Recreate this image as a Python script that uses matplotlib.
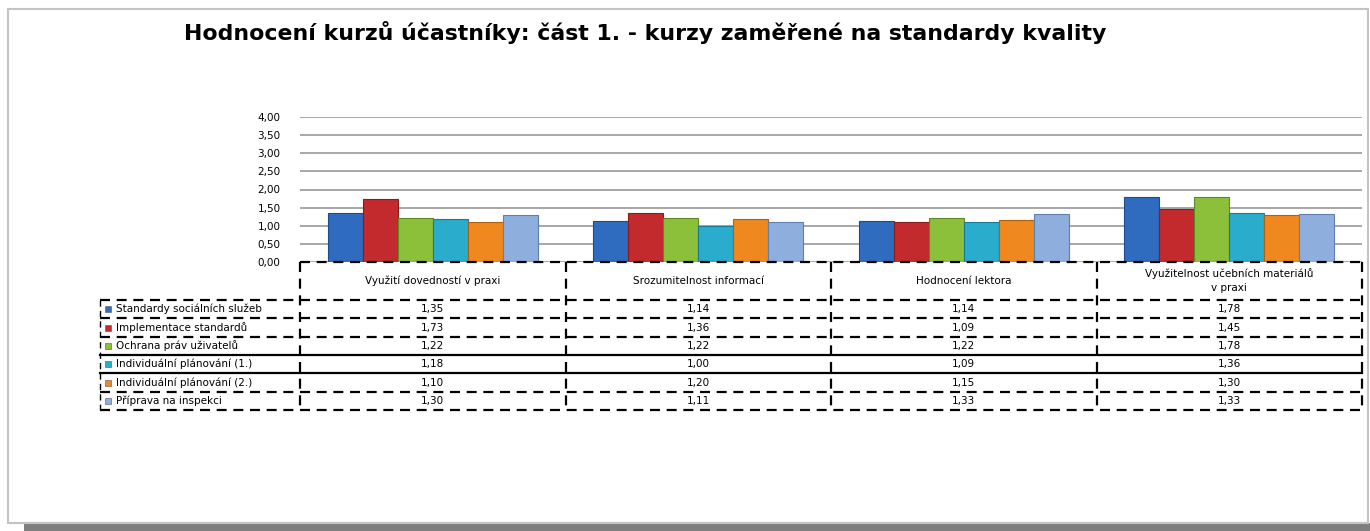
import matplotlib.pyplot as plt
from matplotlib.patches import Rectangle
import numpy as np

categories = ['Využití dovedností v praxi', 'Srozumitelnost informací',
              'Hodnocení lektora', 'Využitelnost učebních materiálů\nv praxi']
series = ['Standardy sociálních služeb', 'Implementace standardů',
          'Ochrana práv uživatelů', 'Individuální plánování (1.)',
          'Individuální plánování (2.)', 'Příprava na inspekci']
standardy = [1.35, 1.14, 1.14, 1.78]
implementace = [1.73, 1.36, 1.09, 1.45]
ochrana = [1.22, 1.22, 1.22, 1.78]
individualni_1 = [1.18, 1.00, 1.09, 1.36]
individualni_2 = [1.10, 1.20, 1.15, 1.30]
priprava = [1.30, 1.11, 1.33, 1.33]
values = [standardy, implementace, ochrana, individualni_1, individualni_2, priprava]
yticks = [0, 0.5, 1, 1.5, 2, 2.5, 3, 3.5, 4]

colors = ['#2f6cc0', '#c22a2d', '#8cbf3a', '#2aaccd', '#f08820', '#8eaedd']
edges = ['#1d4a8a', '#8a1a1c', '#5f8a22', '#1a7a93', '#b05f10', '#5f7fae']

W, H = 1370, 531
fig = plt.figure(figsize=(W / 100, H / 100), dpi=100)
fig.patch.set_facecolor('white')


def fx(px):
    return px / W


def fy(py):
    return 1 - py / H


# frame and shadow
fig.patches.append(Rectangle((fx(24), fy(531)), fx(1346), 8 / H, transform=fig.transFigure,
                             facecolor='#7f7f7f', edgecolor='none', zorder=-2))
fig.patches.append(Rectangle((fx(8), fy(523)), fx(1360), 514 / H, transform=fig.transFigure,
                             facecolor='white', edgecolor='#c4c4c4', linewidth=1.5, zorder=-1))

fig.text(fx(645), fy(33), 'Hodnocení kurzů účastníky: část 1. - kurzy zaměřené na standardy kvality',
         ha='center', va='center', fontsize=15.8, fontweight='bold', color='black')

# bar chart
x0, x1, ytop, ybot = 300, 1362, 117, 262
ax = fig.add_axes([fx(x0), fy(ybot), fx(x1 - x0), (ybot - ytop) / H])
ax.patch.set_alpha(0)
ax.set_xlim(-0.5, len(categories) - 0.5)
ax.set_ylim(0, 4)
x = np.arange(len(categories))
bw = 0.132
for i, (vals, c, e) in enumerate(zip(values, colors, edges)):
    ax.bar(x + (i - 2.5) * bw, vals, width=bw, color=c, edgecolor=e, linewidth=0.8, zorder=3)
ax.set_yticks(yticks)
ax.set_yticklabels([f'{t:.2f}'.replace('.', ',') for t in yticks], fontsize=7.5)
ax.tick_params(axis='y', length=0, pad=14)
ax.set_xticks([])
ax.grid(axis='y', color='#a0a0a0', linewidth=1.3, zorder=0)
for s in ax.spines.values():
    s.set_visible(False)

# data table under the chart
unit = (x1 - x0) / len(categories)
lx = 100
tab = fig.add_axes([fx(lx), fy(410), fx(x1 - lx), (410 - ybot) / H])
tab.patch.set_alpha(0)
left = -0.5 - (x0 - lx) / unit
tab.set_xlim(left, len(categories) - 0.5)
row_h = 148 / (38 / 18.33 + 6)
head = 38 / row_h
tab.set_ylim(head + 6, 0)
tab.axis('off')

dash = dict(color='black', linewidth=1.6, linestyle=(0, (4.5, 3)))
solid = dict(color='black', linewidth=1.6)
tab.plot([-0.5, 3.5], [0, 0], clip_on=False, **dash)
for b in np.arange(-0.5, 4, 1):
    tab.plot([b, b], [0, head + 6], clip_on=False, **dash)
tab.plot([left, left], [head, head + 6], clip_on=False, color='black', linewidth=1.0,
         linestyle=(0, (4.5, 3)))
for r in range(7):
    style = solid if r in (3, 4) else dash
    tab.plot([left, 3.5], [head + r, head + r], clip_on=False, **style)

for j, cat in enumerate(categories):
    tab.text(j, head / 2, cat, ha='center', va='center', fontsize=7.5, linespacing=1.5)
for i, (name, vals, c) in enumerate(zip(series, values, colors)):
    yc = head + i + 0.5
    tab.scatter([left + 0.03], [yc], marker='s', s=14, color=c, edgecolors='#555555',
                linewidths=0.4, clip_on=False)
    tab.text(left + 0.06, yc, name, ha='left', va='center', fontsize=7.5)
    for j, v in enumerate(vals):
        tab.text(j, yc, f'{v:.2f}'.replace('.', ','), ha='center', va='center', fontsize=7.5)

fig.savefig('out.png', dpi=100)
